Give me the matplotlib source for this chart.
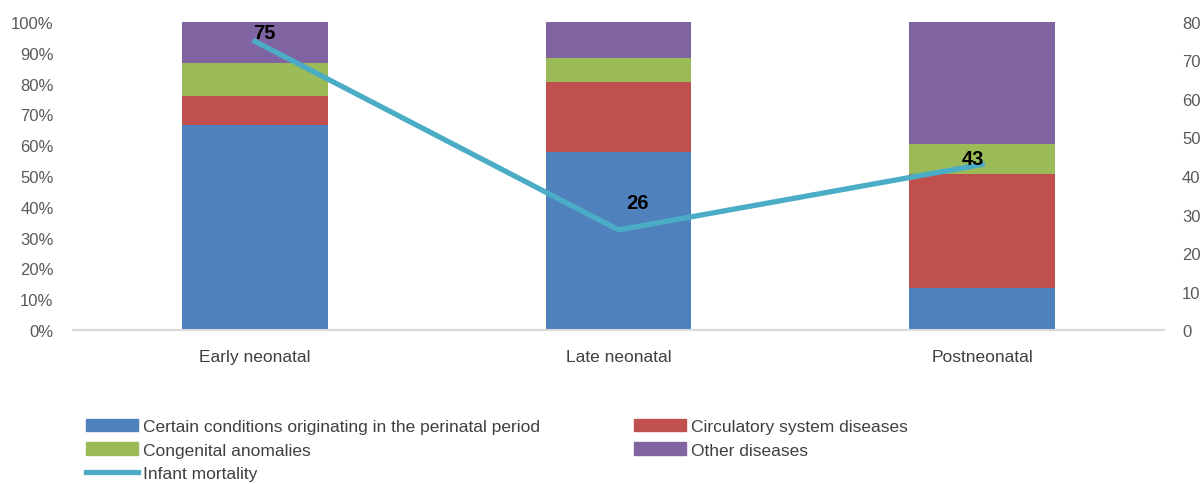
import matplotlib
matplotlib.use('Agg')
import matplotlib.pyplot as plt
import numpy as np
from matplotlib.patches import Patch
from matplotlib.lines import Line2D

plt.rcParams['font.family'] = ['Liberation Sans', 'DejaVu Sans']

categories = ['Early neonatal', 'Late neonatal', 'Postneonatal']
perinatal = [66.6, 57.7, 13.5]
circulatory = [9.3, 22.9, 37.2]
congenital = [10.9, 7.8, 9.6]
other = [13.2, 11.6, 39.7]
infant_mortality = [75, 26, 43]

series = [
    ('Certain conditions originating in the perinatal period', perinatal, '#4f81bd'),
    ('Circulatory system diseases', circulatory, '#c0504d'),
    ('Congenital anomalies', congenital, '#9bbb59'),
    ('Other diseases', other, '#8064a2'),
]
line_col = '#4bacc6'

fig = plt.figure(figsize=(12.03, 4.85), dpi=100)
ax = fig.add_axes([0.0607, 0.3175, 0.9069, 0.6351])
x = np.arange(len(categories))
bottom = np.zeros(len(categories))
for name, vals, col in series:
    ax.bar(x, vals, 0.4, bottom=bottom, color=col, label=name, zorder=2)
    bottom += np.array(vals)

ax.set_xlim(-0.5, 2.5)
ax.set_ylim(0, 100)
ax.set_yticks(np.arange(0, 101, 10))
ax.set_yticklabels([f'{v}%' for v in range(0, 101, 10)])
ax.set_xticks(x)
ax.set_xticklabels(categories)
for s in ['top', 'right', 'left']:
    ax.spines[s].set_visible(False)
ax.spines['bottom'].set_color('#d9d9d9')
ax.spines['bottom'].set_linewidth(1.5)
ax.tick_params(axis='y', length=0, labelsize=12, colors='#595959', pad=14)
ax.tick_params(axis='x', length=0, labelsize=12.5, colors='#404040', pad=14)

ax2 = ax.twinx()
ax2.set_ylim(0, 80)
ax2.set_yticks(np.arange(0, 81, 10))
for s in ax2.spines.values():
    s.set_visible(False)
ax2.tick_params(axis='y', length=0, labelsize=12, colors='#595959', pad=13)
ax2.plot(x, infant_mortality, color=line_col, lw=3.8, zorder=3)

# label offsets (points) like in the original
offsets = [(7, 6), (14, 20), (-6.5, 4.5)]
for xi, v, off in zip(x, infant_mortality, offsets):
    ax2.annotate(str(v), (xi, v), xytext=off, textcoords='offset points',
                 ha='center', va='center', fontsize=14.5, fontweight='bold', color='black')

h = [Patch(color=c) for _, _, c in series]
handles = [h[0], h[2], Line2D([], [], color=line_col, lw=3.8), h[1], h[3]]
labels = [series[0][0], series[2][0], 'Infant mortality', series[1][0], series[3][0]]
leg = fig.legend(handles, labels, loc='center left', bbox_to_anchor=(0.0715, 0.070),
                 ncol=2, frameon=False, fontsize=12.5, handlelength=3.0, handleheight=0.7,
                 handletextpad=0.3, columnspacing=5.4, labelspacing=0.5,
                 borderaxespad=0, borderpad=0)
for t in leg.get_texts():
    t.set_color('#404040')

fig.savefig('out.png', dpi=100)
